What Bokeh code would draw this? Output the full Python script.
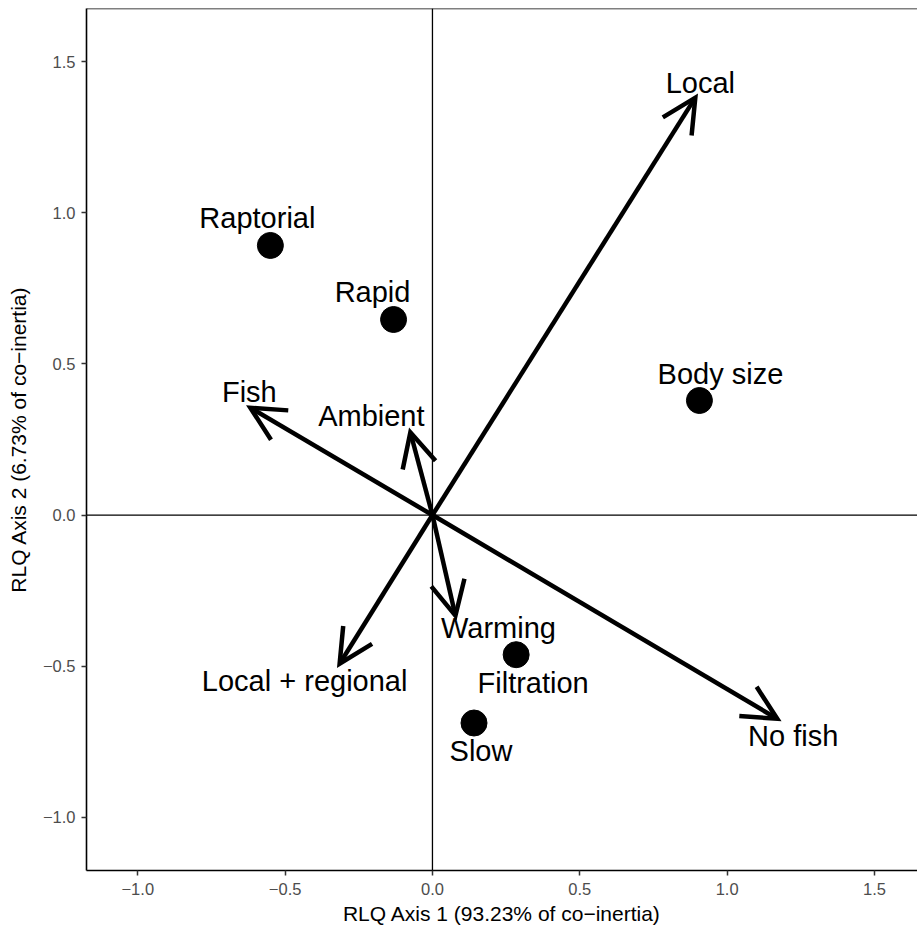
from bokeh.plotting import figure
from bokeh.models import (ColumnDataSource, Arrow, OpenHead, LabelSet, Span,
                          FixedTicker, Range1d)
from bokeh.core.properties import value
from bokeh.embed import file_html
from bokeh.resources import INLINE

# RLQ trait scores (points)
trait_names = ["Raptorial", "Rapid", "Body size", "Filtration", "Slow"]
trait_x = [-0.550, -0.132, 0.906, 0.284, 0.141]
trait_y = [0.892, 0.647, 0.379, -0.462, -0.688]

# RLQ environment loadings (arrows from the origin)
env_names = ["Local", "Fish", "Ambient", "Warming", "Local + regional", "No fish"]
env_x = [0.892, -0.618, -0.075, 0.078, -0.315, 1.170]
env_y = [1.381, 0.355, 0.274, -0.333, -0.492, -0.674]

# axis ticks
x_ticks = [-1.0, -0.5, 0.0, 0.5, 1.0, 1.5]
y_ticks = [-1.0, -0.5, 0.0, 0.5, 1.0, 1.5]
tick_labels = {-1.0: "\u22121.0", -0.5: "\u22120.5", 0.0: "0.0",
               0.5: "0.5", 1.0: "1.0", 1.5: "1.5"}

x_title = "RLQ Axis 1 (93.23% of co\u2212inertia)"
y_title = "RLQ Axis 2 (6.73% of co\u2212inertia)"

# label placement (screen pixels relative to each mark)
trait_dx = [-13, -21, 21, 17, 7]
trait_dy = [17, 17.5, 17, -38, -38]
env_dx = [5, -1, -39, 43, -35, 16]
env_dy = [4.5, 6, 6, -22, -27, -27]

FONT = "Liberation Sans"

p = figure(width=917, height=929, output_backend="svg", toolbar_location=None,
           x_range=Range1d(-1.174, 1.646), y_range=Range1d(-1.176, 1.676),
           min_border_left=86, min_border_right=0, min_border_top=8,
           min_border_bottom=59, background_fill_color="white",
           border_fill_color="white", outline_line_color=None)

p.grid.visible = False

for ax, ticks in ((p.xaxis, x_ticks), (p.yaxis, y_ticks)):
    ax.ticker = FixedTicker(ticks=ticks)
    ax.major_label_overrides = tick_labels
    ax.minor_tick_line_color = None
    ax.major_tick_in = 0
    ax.major_tick_out = 5
    ax.major_tick_line_color = "#333333"
    ax.major_tick_line_width = 1.5
    ax.axis_line_color = "black"
    ax.axis_line_width = 1.6
    ax.major_label_text_font = FONT
    ax.major_label_text_font_size = "16.5px"
    ax.major_label_text_color = "#4d4d4d"
    ax.axis_label_text_font = FONT
    ax.axis_label_text_font_size = "21px"
    ax.axis_label_text_font_style = "normal"
    ax.axis_label_text_color = "black"

p.xaxis.axis_label = x_title
p.yaxis.axis_label = y_title
p.xaxis.major_label_standoff = 7
p.xaxis.axis_label_standoff = 4
p.yaxis.major_label_standoff = 6
p.yaxis.axis_label_standoff = 10

# top border of the panel
p.add_layout(Span(location=1.676, dimension="width", line_color="black",
                  line_width=1.6))

# reference lines through the origin
p.add_layout(Span(location=0, dimension="width", line_color="black", line_width=1.3))
p.add_layout(Span(location=0, dimension="height", line_color="black", line_width=1.3))

# environment arrows
env_src = ColumnDataSource(dict(x0=[0.0] * len(env_x), y0=[0.0] * len(env_y),
                                x=env_x, y=env_y, name=env_names,
                                dx=env_dx, dy=env_dy))
p.add_layout(Arrow(x_start="x0", y_start="y0", x_end="x", y_end="y",
                   source=env_src, line_color="black", line_width=4.5,
                   end=OpenHead(size=34, line_color="black", line_width=4.5,
                                line_join="miter")))
p.add_layout(LabelSet(x="x", y="y", text="name", source=env_src,
                      x_offset="dx", y_offset="dy", text_align="center",
                      text_baseline="alphabetic", text_font=value(FONT),
                      text_font_size=value("29px"), text_color="black"))

# trait points
trait_src = ColumnDataSource(dict(x=trait_x, y=trait_y, name=trait_names,
                                  dx=trait_dx, dy=trait_dy))
p.scatter("x", "y", source=trait_src, size=26, fill_color="black",
          line_color="black")
p.add_layout(LabelSet(x="x", y="y", text="name", source=trait_src,
                      x_offset="dx", y_offset="dy", text_align="center",
                      text_baseline="alphabetic", text_font=value(FONT),
                      text_font_size=value("29px"), text_color="black"))

open("out.html", "w").write(file_html(p, INLINE))
